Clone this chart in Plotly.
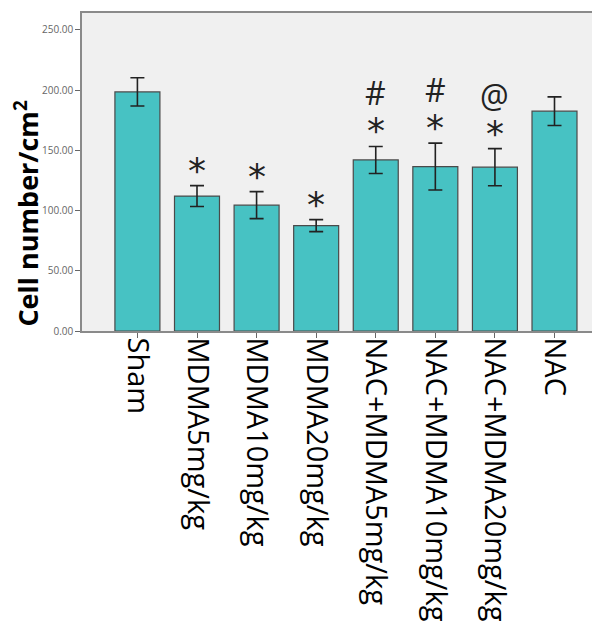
import plotly.graph_objects as go

groups = ["Sham", "MDMA5mg/kg", "MDMA10mg/kg", "MDMA20mg/kg",
          "NAC+MDMA5mg/kg", "NAC+MDMA10mg/kg", "NAC+MDMA20mg/kg", "NAC"]
means = [198.5, 112.0, 104.5, 87.5, 142.0, 136.5, 136.0, 182.5]
errors = [11.7, 8.7, 11.2, 5.0, 11.2, 19.5, 15.4, 11.9]
marks_low = ["", "*", "*", "*", "*", "*", "*", ""]
marks_high = ["", "", "", "", "#", "#", "@", ""]
y_ticks = [0, 50, 100, 150, 200, 250]

fig = go.Figure()
fig.add_trace(go.Bar(
    x=list(range(len(groups))), y=means,
    marker=dict(color="#47C2C3", line=dict(color="#4a4a4a", width=1.2)),
    width=0.755,
    error_y=dict(type="data", array=errors, visible=True,
                 color="#222222", thickness=1.6, width=7),
))

annotations = []
for i, (m, e, lo, hi) in enumerate(zip(means, errors, marks_low, marks_high)):
    if lo:
        annotations.append(dict(x=i, y=m + e, text=lo, showarrow=False,
                                xref="x", yref="y", yanchor="bottom", yshift=-7,
                                font=dict(family="DejaVu Sans", size=36, color="#222")))
    if hi:
        annotations.append(dict(x=i, y=m + e, text=hi, showarrow=False,
                                xref="x", yref="y", yanchor="bottom", yshift=30,
                                font=dict(family="Open Sans", size=32, color="#222")))

annotations.append(dict(
    text="<b>Cell number/cm<sup>2</sup></b>", textangle=-90, showarrow=False,
    xref="paper", yref="paper", x=-0.108, y=0.37, xanchor="center", yanchor="middle",
    font=dict(family="Open Sans", size=27, color="#000"),
))

fig.update_layout(
    width=600, height=621,
    margin=dict(l=74, r=10, t=5, b=298),
    paper_bgcolor="white", plot_bgcolor="#f0f0f0",
    showlegend=False,
    annotations=annotations,
    font=dict(family="Open Sans"),
)
fig.update_xaxes(
    range=[-0.93, 7.73], tickmode="array", tickvals=list(range(len(groups))),
    ticktext=groups, tickangle=90, automargin=False, ticklabelstandoff=-6,
    tickfont=dict(family="Open Sans", size=29, color="#000"),
    showline=True, linecolor="#8a8a8a", linewidth=1.5, mirror=True,
    ticks="outside", ticklen=5, tickcolor="#666", showgrid=False,
)
fig.update_yaxes(
    range=[0, 264], tickmode="array", tickvals=y_ticks,
    ticktext=[f"{v:.2f}" for v in y_ticks], automargin=False,
    tickfont=dict(family="Open Sans", size=10, color="#666"),
    showline=True, linecolor="#8a8a8a", linewidth=1.5, mirror=True,
    ticks="outside", ticklen=5, tickcolor="#666", showgrid=False, zeroline=False,
)
fig.write_html("out.html")
